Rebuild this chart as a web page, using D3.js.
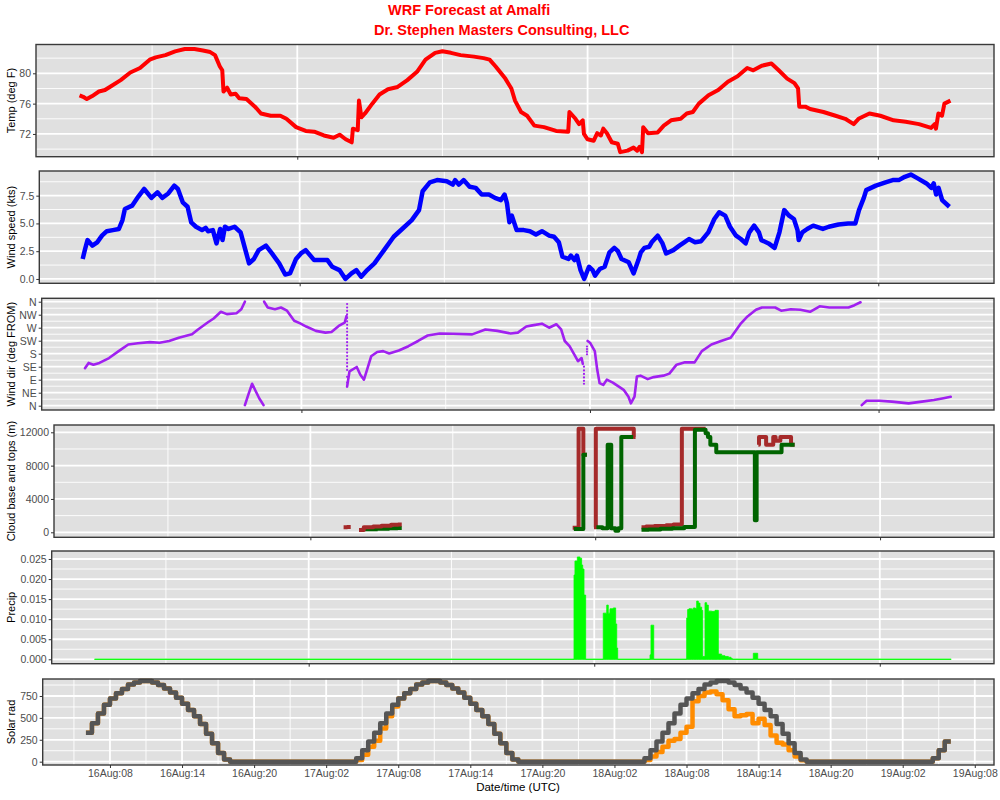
<!DOCTYPE html>
<html>
<head>
<meta charset="utf-8">
<script src="https://cdn.jsdelivr.net/npm/d3@7"></script>
<style>
  body { margin: 0; background: #fff; }
  svg { display: block; }
</style>
</head>
<body>
<div id="chart"></div>
<script>
// all times are hours after 16 Aug 00:00 UTC

// Temperature (deg F)
const tempHours = [6.0, 6.3, 6.6, 7.05, 7.6, 8.1, 8.6, 9.4, 10.2, 11.0, 11.8, 12.3, 13.1, 13.9, 14.7, 15.5, 16.2, 16.8, 17.2, 17.6,
  17.8, 17.9, 18.2, 18.5, 18.9, 19.2, 19.8, 20.5, 21.0, 21.8, 22.6, 23.1, 23.9, 24.7, 25.4, 26.2, 27.0, 27.5, 28.0, 28.5,
  28.6, 29.0, 29.1, 29.3, 29.6, 30.2, 30.8, 31.5, 32.3, 33.1, 33.9, 34.6, 35.4, 36.0, 36.7, 37.5, 38.6, 39.4, 39.9, 40.4,
  41.2, 41.7, 42.0, 42.5, 43.0, 43.6, 44.4, 45.4, 46.4, 46.5, 47.0, 47.3, 47.6, 47.7, 48.0, 48.5, 48.8, 49.1, 49.3, 49.6,
  50.0, 50.5, 50.7, 51.3, 51.8, 52.1, 52.3, 52.5, 52.6, 53.0, 53.8, 54.3, 54.9, 55.7, 56.2, 56.7, 57.2, 58.0, 58.8, 59.6,
  60.4, 61.2, 61.7, 62.4, 63.2, 63.8, 64.5, 65.1, 65.4, 65.5, 66.0, 66.4, 67.5, 68.5, 69.3, 70.0, 70.4, 71.3, 72.2, 73.3,
  74.3, 75.4, 76.4, 76.7, 76.8, 77.0, 77.3, 77.5, 78.0];
const tempValues = [77.1, 76.9, 76.6, 77.0, 77.6, 77.8, 78.3, 79.1, 80.1, 80.7, 81.8, 82.1, 82.4, 82.9, 83.2, 83.2, 83.0, 82.8, 82.4, 80.9,
  80.4, 77.6, 78.1, 77.2, 77.3, 76.7, 76.6, 75.6, 74.7, 74.4, 74.4, 74.0, 72.9, 72.4, 72.3, 71.8, 71.5, 71.9, 71.3, 70.9,
  72.7, 72.5, 76.4, 74.2, 74.7, 76.0, 77.2, 77.9, 78.2, 79.1, 80.2, 81.8, 82.7, 82.9, 82.7, 82.4, 82.2, 82.0, 81.8, 80.9,
  79.3, 78.0, 76.4, 74.9, 74.4, 73.1, 72.9, 72.4, 72.3, 74.9, 74.0, 73.3, 73.8, 72.0, 71.3, 71.1, 72.1, 71.8, 72.7, 72.1,
  70.9, 70.7, 69.6, 69.8, 70.2, 69.8, 70.3, 69.6, 72.9, 72.1, 72.2, 73.1, 73.8, 74.0, 74.7, 74.9, 76.0, 77.1, 77.8, 78.9,
  79.6, 80.7, 80.4, 81.0, 81.3, 80.4, 79.3, 78.7, 78.0, 75.6, 75.6, 75.3, 74.9, 74.4, 74.0, 73.3, 74.0, 74.7, 74.4, 73.8,
  73.6, 73.3, 72.8, 73.3, 72.7, 74.7, 74.4, 76.0, 76.4];

// Wind speed (kts)
const windHours = [6.0, 6.2, 6.4, 6.8, 7.2, 7.6, 8.0, 8.5, 9.0, 9.3, 9.5, 10.1, 10.6, 11.1, 11.7, 12.2, 12.6, 13.1, 13.6, 13.9,
  14.3, 14.7, 15.0, 15.4, 15.9, 16.2, 16.4, 16.8, 17.1, 17.4, 17.6, 17.8, 18.1, 18.6, 19.1, 19.5, 19.8, 20.2, 20.6, 21.2,
  21.7, 22.3, 22.8, 23.2, 23.7, 24.1, 24.5, 25.2, 26.0, 26.3, 26.7, 27.3, 27.8, 28.3, 28.7, 29.1, 29.6, 30.2, 31.0, 31.8,
  32.5, 33.3, 33.9, 34.2, 34.8, 35.4, 36.2, 36.7, 36.9, 37.2, 37.6, 38.1, 38.6, 39.1, 39.7, 40.2, 40.7, 41.0, 41.2, 41.4,
  41.6, 42.0, 42.6, 43.1, 43.6, 44.1, 44.7, 45.1, 45.5, 45.8, 46.3, 46.5, 46.8, 47.0, 47.3, 47.6, 48.0, 48.3, 48.5, 48.9,
  49.3, 49.7, 50.1, 50.4, 50.7, 51.3, 51.7, 52.1, 52.3, 52.6, 53.0, 53.2, 53.7, 54.1, 54.4, 55.0, 55.5, 55.9, 56.3, 56.8,
  57.3, 57.9, 58.4, 58.8, 59.3, 59.7, 60.2, 60.6, 61.0, 61.3, 61.7, 62.1, 62.3, 62.9, 63.4, 63.8, 64.2, 64.6, 65.0, 65.3,
  65.4, 65.7, 66.1, 66.6, 67.4, 67.9, 68.7, 69.5, 70.1, 70.4, 70.8, 71.0, 71.8, 72.6, 73.2, 73.7, 74.2, 74.7, 75.2, 76.0,
  76.4, 76.6, 76.8, 77.0, 77.3, 77.9];
const windValues = [1.8, 2.7, 3.5, 3.0, 3.3, 3.9, 4.3, 4.4, 4.5, 5.3, 6.3, 6.6, 7.4, 8.1, 7.3, 7.8, 7.3, 7.7, 8.4, 8.1,
  6.9, 6.5, 5.1, 4.7, 4.4, 4.6, 4.3, 4.4, 3.2, 4.5, 3.5, 4.7, 4.5, 4.7, 4.2, 2.6, 1.4, 1.8, 2.6, 3.0,
  2.3, 1.4, 0.4, 0.5, 1.8, 2.3, 2.6, 1.7, 1.7, 1.7, 1.1, 0.8, 0.0, 0.5, 0.8, 0.2, 0.8, 1.4, 2.6, 3.8,
  4.5, 5.3, 6.2, 7.9, 8.7, 8.9, 8.8, 8.5, 8.9, 8.5, 8.9, 8.3, 8.2, 7.6, 7.6, 7.3, 7.1, 7.6, 6.8, 5.1,
  5.7, 4.4, 4.4, 4.3, 4.0, 4.3, 3.9, 3.8, 3.3, 2.0, 1.8, 2.1, 1.7, 2.1, 0.8, 0.0, 1.1, 0.8, 0.3, 0.9,
  1.1, 2.4, 2.8, 2.5, 1.8, 1.5, 0.5, 1.7, 2.4, 2.8, 2.9, 3.3, 3.9, 3.2, 2.3, 2.6, 3.0, 3.3, 3.6, 3.3,
  3.4, 4.2, 5.4, 6.0, 5.7, 4.7, 3.9, 3.6, 3.2, 4.2, 4.8, 4.2, 3.5, 3.2, 2.8, 4.2, 6.2, 5.7, 5.4, 4.4,
  3.5, 4.2, 4.5, 4.8, 4.5, 4.7, 4.9, 5.0, 5.0, 6.2, 7.3, 8.0, 8.4, 8.7, 8.9, 8.9, 9.2, 9.4, 9.1, 8.6,
  8.2, 8.6, 7.6, 8.2, 7.1, 6.5];

// Wind direction (deg FROM), null = break where it wraps through north
const dirHours = [6.0, 6.3, 6.7, 7.2, 8.0, 8.8, 9.6, 10.4, 11.4, 12.2, 13.0, 13.8, 14.9, 15.4, 16.2, 16.7, 17.3, 17.8, 18.6, 19.0, 19.3, null,
  19.3, 19.6, 19.9, 20.2, 20.5, 20.85, null,
  20.9, 21.2, 21.8, 22.3, 22.8, 23.4, 23.9, 24.4, 25.2, 26.0, 26.5, 27.1, 27.6, 27.75, null,
  27.8, 28.0, 28.6, 28.9, 29.2, 29.5, 29.8, 30.3, 30.8, 31.3, 32.1, 32.9, 33.7, 34.5, 35.5, 36.6, 38.2, 39.3, 40.3, 41.4,
  42.0, 42.7, 43.2, 44.0, 44.6, 45.2, 45.6, 45.9, 46.3, 46.7, 47.0, 47.3, 47.4, null,
  47.8, 48.0, 48.4, 48.6, 48.8, 49.1, 49.4, 49.9, 50.4, 50.8, 51.2, 51.4, 51.7, 51.9, 52.2, 52.8, 53.3, 54.1, 54.6, 55.2,
  55.9, 56.7, 57.3, 58.1, 58.9, 59.7, 60.5, 61.1, 61.8, 62.3, 63.4, 63.9, 64.7, 65.5, 66.3, 67.1, 67.9, 69.5, 70.0, 70.5, null,
  70.6, 71.0, 72.1, 73.1, 74.5, 75.6, 76.6, 77.4, 78.0];
const dirValues = [130, 148, 142, 148, 165, 189, 212, 216, 220, 218, 224, 235, 247, 264, 288, 302, 325, 317, 320, 334, 360, null,
  2, 40, 76, 50, 25, 2, null,
  360, 340, 334, 340, 329, 294, 285, 274, 259, 253, 255, 276, 288, 310, null,
  66, 119, 134, 107, 90, 130, 171, 186, 189, 181, 191, 206, 224, 243, 250, 249, 247, 264, 259, 250,
  253, 274, 278, 284, 270, 282, 264, 224, 206, 177, 154, 165, 145, null,
  224, 218, 189, 125, 78, 72, 90, 80, 66, 55, 31, 8, 31, 101, 104, 92, 99, 104, 111, 142,
  150, 150, 189, 212, 224, 235, 282, 309, 332, 340, 340, 329, 334, 332, 325, 344, 340, 340, 348, 358, null,
  2, 17, 17, 14, 8, 14, 20, 26, 31];
// isolated points during fast swings
const dirDotHours = [27.8, 27.8, 27.8, 27.8, 27.8, 27.8, 27.8, 27.8, 27.8, 27.8, 27.8, 27.8, 27.8, 27.8, 27.8, 27.8,
  27.8, 27.8, 27.8, 27.8, 27.8, 27.8, 47.5, 47.5, 47.5, 47.5, 47.5, 47.5, 47.75, 47.75, 47.75, 47.75];
const dirDotValues = [352, 340, 328, 316, 304, 292, 280, 268, 256, 244, 232, 220, 208, 196, 184, 172,
  160, 148, 136, 124, 100, 80, 135, 122, 110, 98, 86, 76, 205, 196, 187, 178];

// Cloud tops (brown) and base (green), metres
const cloudTopHours = [26.8, 27.1, 27.4, null, 28.1, 28.5, 29.3, 30.0, 30.8, 31.4, 31.7, null,
  46.1, 46.6, 47.0, 47.3, null, 47.9, 48.05, 51.25, 51.4, null,
  51.9, 52.3, 53.0, 54.0, 54.6, 55.3, 57.3, null,
  61.75, 61.8, 62.4, 63.0, 63.2, 63.6, 64.5, 64.8];
const cloudTopValues = [600, 650, 650, null, 280, 600, 700, 800, 900, 950, 950, null,
  550, 12440, 9300, 9300, null, 600, 12440, 11450, 11450, null,
  600, 700, 750, 850, 950, 12440, 12440, null,
  10500, 11450, 10500, 11450, 11000, 11450, 10500, 10500];
const cloudBaseHours = [28.5, 29.5, 30.5, 31.2, 31.7, null, 46.2, 47.0, 47.3, null,
  48.1, 48.6, 49.05, 49.35, 49.7, 49.95, 50.2, 51.2, null,
  51.9, 52.5, 53.5, 54.5, 55.5, 56.4, 57.3, 57.5, 57.7, 58.2, 61.45, 61.6, 63.7, 64.8];
const cloudBaseValues = [380, 420, 480, 520, 520, null, 400, 9300, 9300, null,
  600, 500, 10500, 500, 200, 500, 11450, 11450, null,
  300, 350, 420, 500, 650, 12300, 11900, 11450, 10500, 9600, 1440, 9600, 10500, 10500];

// Precipitation
const precipHours = [6, 46.3, 46.38, 46.58, 46.8, 46.94, 47.03, 47.14, 47.28, 48.76, 49.05, 49.18, 49.32, 49.6, 49.8, 49.89,
  49.97, 52.69, 52.77, 53.0, 55.77, 55.85, 55.96, 56.19, 56.33, 56.47, 56.61, 56.75, 56.89, 57.03, 57.11, 57.31,
  57.45, 57.59, 57.87, 58.15, 58.38, 58.43, 58.71, 58.99, 59.27, 59.5, 59.6, 61.37, 61.74, 78];
const precipValues = [0, 0.021, 0.0245, 0.0255, 0.0252, 0.0235, 0.0225, 0.016, 0, 0.0115, 0.0135, 0.0115, 0.0126, 0.0128, 0.0088, 0.0028,
  0, 0.0011, 0.0085, 0, 0.0103, 0.0124, 0.0126, 0.0125, 0.0128, 0.0127, 0.0145, 0.014, 0.013, 0.0122, 0.0007, 0.0141,
  0.0135, 0.012, 0.0119, 0.0122, 0.0122, 0.0013, 0.0009, 0.0007, 0.0005, 0.0002, 0, 0.0015, 0, 0];

// Solar radiation, half-hourly from 16 Aug 06:00
const solarStart = 6;
const solarStep = 0.5;
const solarClear = [330, 440, 550, 650, 720, 780, 830, 880, 905, 920, 920, 905, 875, 835, 790, 730, 660, 590, 520, 430, 320, 210, 100, 25,
  0, 0, 0, 0, 0, 0, 0, 0, 0, 0, 0, 0, 0, 0, 0, 0, 0, 0, 0, 0, 0,
  40, 130, 230, 330, 440, 550, 650, 720, 780, 830, 880, 905, 920, 920, 905, 875, 835, 790, 730, 660, 590, 520, 430, 320, 210, 100, 25,
  0, 0, 0, 0, 0, 0, 0, 0, 0, 0, 0, 0, 0, 0, 0, 0, 0, 0, 0, 0, 0,
  40, 130, 230, 330, 440, 550, 650, 720, 780, 830, 880, 905, 920, 920, 905, 875, 835, 790, 730, 660, 590, 520, 430, 320, 210, 100, 25,
  0, 0, 0, 0, 0, 0, 0, 0, 0, 0, 0, 0, 0, 0, 0, 0, 0, 0, 0, 0, 0,
  40, 130, 230, 230];
const solarActual = [330, 440, 550, 650, 720, 780, 830, 880, 905, 920, 920, 905, 875, 835, 790, 730, 660, 590, 520, 430, 320, 210, 100, 25,
  0, 0, 0, 0, 0, 0, 0, 0, 0, 0, 0, 0, 0, 0, 0, 0, 0, 0, 0, 0, 0,
  20, 80, 170, 240, 380, 520, 630, 720, 780, 830, 880, 905, 920, 920, 905, 875, 835, 790, 730, 660, 590, 520, 430, 320, 210, 100, 25,
  0, 0, 0, 0, 0, 0, 0, 0, 0, 0, 0, 0, 0, 0, 0, 0, 0, 0, 0, 0, 0,
  20, 60, 110, 170, 240, 260, 330, 400, 690, 750, 790, 800, 770, 700, 600, 520, 530, 545, 440, 490, 420, 300, 215, 195, 130, 60, 15,
  0, 0, 0, 0, 0, 0, 0, 0, 0, 0, 0, 0, 0, 0, 0, 0, 0, 0, 0, 0, 0,
  40, 130, 230, 230];

// axis ticks
const tempTicks = [72, 76, 80];
const windTicks = [0, 2.5, 5, 7.5];
const dirTicks = [0, 45, 90, 135, 180, 225, 270, 315, 360];
const dirTickLabels = ['N', 'NE', 'E', 'SE', 'S', 'SW', 'W', 'NW', 'N'];
const cloudTicks = [0, 4000, 8000, 12000];
const precipTicks = [0, 0.005, 0.01, 0.015, 0.02, 0.025];
const solarTicks = [0, 250, 500, 750];
const dayLines = [24, 48, 72];
const halfDayLines = [12, 36, 60];

const FONT = '"Liberation Sans", Arial, Helvetica, sans-serif';
const t0 = Date.UTC(2018, 7, 16);
const hrs = h => new Date(t0 + h * 3600000);
const xDomain = [hrs(2.4), hrs(81.6)];

const svg = d3.select('#chart')
  .append('svg')
  .attr('width', 1000)
  .attr('height', 800)
  .style('font-family', FONT);

svg.append('rect').attr('width', 1000).attr('height', 800).attr('fill', '#fff');

// titles
svg.append('text')
  .attr('x', 388).attr('y', 15)
  .attr('font-size', 14.5).attr('font-weight', 'bold').attr('fill', '#FF0000')
  .text('WRF Forecast at Amalfi');
svg.append('text')
  .attr('x', 374).attr('y', 34.5)
  .attr('font-size', 14.5).attr('font-weight', 'bold').attr('fill', '#FF0000')
  .text('Dr. Stephen Masters Consulting, LLC');

function makePanel(box, yDom, yTicks, yFmt, title, xMajor, xMinor) {
  const x = d3.scaleUtc().domain(xDomain).range([box.x0, box.x1]);
  const y = d3.scaleLinear().domain(yDom).range([box.y1, box.y0]);
  const g = svg.append('g');

  g.append('rect')
    .attr('x', box.x0).attr('y', box.y0)
    .attr('width', box.x1 - box.x0).attr('height', box.y1 - box.y0)
    .attr('fill', '#E0E0E0');

  const step = yTicks[1] - yTicks[0];
  const yMinor = [yTicks[0] - step / 2, ...yTicks.map(v => v + step / 2)]
    .filter(v => v > yDom[0] && v < yDom[1]);
  const xMinorIn = xMinor.filter(d => d > xDomain[0] && d < xDomain[1]);

  const grid = g.append('g').attr('stroke', '#fff');
  grid.selectAll('.hmin').data(yMinor).join('line').attr('class', 'hmin')
    .attr('x1', box.x0).attr('x2', box.x1)
    .attr('y1', d => y(d)).attr('y2', d => y(d))
    .attr('stroke-width', 0.9);
  grid.selectAll('.vmin').data(xMinorIn).join('line').attr('class', 'vmin')
    .attr('y1', box.y0).attr('y2', box.y1)
    .attr('x1', d => x(d)).attr('x2', d => x(d))
    .attr('stroke-width', 0.9);
  grid.selectAll('.hmaj').data(yTicks).join('line').attr('class', 'hmaj')
    .attr('x1', box.x0).attr('x2', box.x1)
    .attr('y1', d => y(d)).attr('y2', d => y(d))
    .attr('stroke-width', 1.8);
  grid.selectAll('.vmaj').data(xMajor).join('line').attr('class', 'vmaj')
    .attr('y1', box.y0).attr('y2', box.y1)
    .attr('x1', d => x(d)).attr('x2', d => x(d))
    .attr('stroke-width', 1.8);

  const marks = g.append('g');

  function frame(xFmt) {
    g.append('rect')
      .attr('x', box.x0).attr('y', box.y0)
      .attr('width', box.x1 - box.x0).attr('height', box.y1 - box.y0)
      .attr('fill', 'none').attr('stroke', '#3a3a3a').attr('stroke-width', 1.4);

    const ya = g.append('g')
      .attr('transform', `translate(${box.x0},0)`)
      .call(d3.axisLeft(y).tickValues(yTicks).tickFormat(yFmt).tickSize(3).tickPadding(2));
    ya.select('.domain').remove();
    ya.selectAll('line').attr('stroke', '#333');
    ya.selectAll('text').attr('fill', '#4D4D4D').attr('font-size', 10.5).attr('font-family', FONT);

    const xa = g.append('g')
      .attr('transform', `translate(0,${box.y1})`)
      .call(d3.axisBottom(x).tickValues(xMajor).tickFormat(xFmt).tickSize(3).tickPadding(2));
    xa.select('.domain').remove();
    xa.selectAll('line').attr('stroke', '#333');
    xa.selectAll('text').attr('fill', '#4D4D4D').attr('font-size', 10.5).attr('font-family', FONT);

    g.append('text')
      .attr('transform', `translate(11,${(box.y0 + box.y1) / 2}) rotate(-90)`)
      .attr('text-anchor', 'middle')
      .attr('dy', '0.35em')
      .attr('font-size', 11)
      .attr('fill', '#000')
      .text(title);
  }

  return { marks, x, y, frame };
}

const dayTickDates = dayLines.map(hrs);
const halfDayDates = halfDayLines.map(hrs);
const noLabel = () => '';

// ---- Temperature
const pTemp = makePanel({ x0: 36, x1: 994, y0: 44.5, y1: 156.7 }, [69.0, 83.8], tempTicks, d => d,
  'Temp (deg F)', dayTickDates, halfDayDates);
pTemp.marks.append('path')
  .datum(d3.zip(tempHours, tempValues))
  .attr('fill', 'none').attr('stroke', '#FF0000').attr('stroke-width', 4)
  .attr('stroke-linejoin', 'round')
  .attr('d', d3.line().x(d => pTemp.x(hrs(d[0]))).y(d => pTemp.y(d[1])));
pTemp.frame(noLabel);

// ---- Wind speed
const pWind = makePanel({ x0: 39.3, x1: 994, y0: 171, y1: 283.3 }, [-0.39, 9.72], windTicks, d3.format('.1f'),
  'Wind speed (kts)', dayTickDates, halfDayDates);
pWind.marks.append('path')
  .datum(d3.zip(windHours, windValues))
  .attr('fill', 'none').attr('stroke', '#0000FF').attr('stroke-width', 4.5)
  .attr('stroke-linejoin', 'round')
  .attr('d', d3.line().x(d => pWind.x(hrs(d[0]))).y(d => pWind.y(d[1])));
pWind.frame(noLabel);

// ---- Wind direction
const pDir = makePanel({ x0: 41.7, x1: 994, y0: 298.3, y1: 410 }, [-14.9, 371.8], dirTicks, (d, i) => dirTickLabels[i],
  'Wind dir (deg FROM)', dayTickDates, halfDayDates);
pDir.marks.append('path')
  .datum(d3.zip(dirHours, dirValues))
  .attr('fill', 'none').attr('stroke', '#A020F0').attr('stroke-width', 2.6)
  .attr('stroke-linejoin', 'round').attr('stroke-linecap', 'round')
  .attr('d', d3.line().defined(d => d[1] != null)
    .x(d => pDir.x(hrs(d[0]))).y(d => pDir.y(d[1])));
pDir.marks.selectAll('circle')
  .data(d3.zip(dirDotHours, dirDotValues))
  .join('circle')
  .attr('cx', d => pDir.x(hrs(d[0])))
  .attr('cy', d => pDir.y(d[1]))
  .attr('r', 1.1)
  .attr('fill', '#A020F0');
pDir.frame(noLabel);

// ---- Cloud base and tops
const pCloud = makePanel({ x0: 54, x1: 994, y0: 425, y1: 537.3 }, [-600, 12876], cloudTicks, d => String(d),
  'Cloud base and tops (m)', dayTickDates, halfDayDates);
const cloudLine = d3.line().defined(d => d[1] != null).curve(d3.curveStepAfter)
  .x(d => pCloud.x(hrs(d[0]))).y(d => pCloud.y(d[1]));
pCloud.marks.append('path')
  .datum(d3.zip(cloudBaseHours, cloudBaseValues).filter(d => d[0] < 32))
  .attr('fill', 'none').attr('stroke', '#006400').attr('stroke-width', 4)
  .attr('d', cloudLine);
pCloud.marks.append('path')
  .datum(d3.zip(cloudTopHours, cloudTopValues))
  .attr('fill', 'none').attr('stroke', '#A52A2A').attr('stroke-width', 4)
  .attr('stroke-linejoin', 'round')
  .attr('d', cloudLine);
pCloud.marks.append('path')
  .datum(d3.zip(cloudBaseHours, cloudBaseValues).filter(d => d[0] == null || d[0] > 32))
  .attr('fill', 'none').attr('stroke', '#006400').attr('stroke-width', 4)
  .attr('stroke-linejoin', 'round')
  .attr('d', cloudLine);
pCloud.frame(noLabel);

// ---- Precip
const pPrecip = makePanel({ x0: 51.7, x1: 994, y0: 551, y1: 663.7 }, [-0.0011, 0.02699], precipTicks, d3.format('.3f'),
  'Precip', dayTickDates, halfDayDates);
const precipData = d3.zip(precipHours, precipValues);
pPrecip.marks.append('path')
  .datum(d3.extent(precipHours))
  .attr('fill', 'none').attr('stroke', '#8AF58A').attr('stroke-width', 1.3)
  .attr('d', d3.line().x(d => pPrecip.x(hrs(d))).y(() => pPrecip.y(0)));
pPrecip.marks.append('path')
  .datum(precipData)
  .attr('fill', '#00FF00').attr('stroke', '#00FF00').attr('stroke-width', 0.8)
  .attr('d', d3.area().curve(d3.curveStepAfter)
    .x(d => pPrecip.x(hrs(d[0]))).y0(pPrecip.y(0)).y1(d => pPrecip.y(d[1])));
pPrecip.frame(noLabel);

// ---- Solar rad
const solarXTicks = d3.utcHour.range(xDomain[0], xDomain[1]).filter(d => d.getUTCHours() % 6 === 2);
const solarXMinor = solarXTicks.map(d => d3.utcHour.offset(d, -3))
  .concat([d3.utcHour.offset(solarXTicks[solarXTicks.length - 1], 3)]);
const pSolar = makePanel({ x0: 42.7, x1: 994, y0: 679, y1: 765 }, [-38, 944], solarTicks, d => d,
  'Solar rad', solarXTicks, solarXMinor);
const solarLine = d3.line().curve(d3.curveStepAfter)
  .x((d, i) => pSolar.x(hrs(solarStart + i * solarStep))).y(d => pSolar.y(d));
pSolar.marks.append('path')
  .datum(solarActual)
  .attr('fill', 'none').attr('stroke', '#FF8C00').attr('stroke-width', 4.5)
  .attr('stroke-linejoin', 'round')
  .attr('d', solarLine);
pSolar.marks.append('path')
  .datum(solarClear)
  .attr('fill', 'none').attr('stroke', '#555555').attr('stroke-width', 4.5)
  .attr('stroke-linejoin', 'round')
  .attr('d', solarLine);
pSolar.frame(d3.utcFormat('%d%b:%H'));

svg.append('text')
  .attr('x', 518).attr('y', 791)
  .attr('text-anchor', 'middle')
  .attr('font-size', 11.5)
  .attr('fill', '#000')
  .text('Date/time (UTC)');
</script>
</body>
</html>
